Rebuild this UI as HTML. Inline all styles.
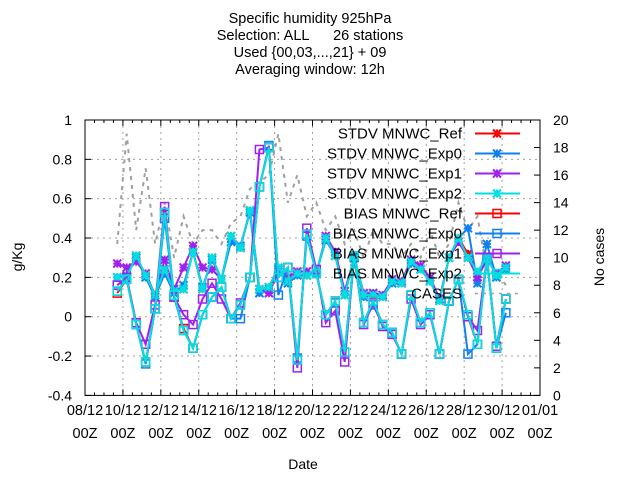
<!DOCTYPE html>
<html><head><meta charset="utf-8"><style>
body{margin:0;background:#fff;}
svg{display:block;font-family:"Liberation Sans",sans-serif;}
</style></head><body>
<svg id="chart" width="640" height="480" viewBox="0 0 640 480" xmlns="http://www.w3.org/2000/svg">
<rect width="640" height="480" fill="#fff"/>
<g font-size="14.5" text-anchor="middle" fill="#000">
<text x="310" y="23">Specific humidity 925hPa</text>
<text x="310" y="40" xml:space="preserve" style="white-space:pre">Selection: ALL      26 stations</text>
<text x="310" y="57">Used {00,03,...,21} + 09</text>
<text x="310" y="74">Averaging window: 12h</text>
</g>
<text font-size="14" transform="translate(22,257) rotate(-90)" text-anchor="middle">g/Kg</text>
<text font-size="14" transform="translate(604,257) rotate(-90)" text-anchor="middle">No cases</text>
<text font-size="14" x="303" y="469" text-anchor="middle">Date</text>
<g id="grid"></g><g id="axes"></g><g id="series"></g><g id="legend"></g>
</svg>
<script>
const xTickLabels=["08/12","10/12","12/12","14/12","16/12","18/12","20/12","22/12","24/12","26/12","28/12","30/12","01/01"];
const yTicks=[1,0.8,0.6,0.4,0.2,0,-0.2,-0.4];
const y2Ticks=[20,18,16,14,12,10,8,6,4,2,0];
const startDay=1.7, stepDay=0.5;
const stdvRef=[0.2,0.2,0.31,0.21,0.11,0.24,0.13,0.14,0.33,0.14,0.3,0.19,0.41,0.35,0.54,0.14,0.15,0.25,0.18,0.22,0.21,0.22,0.4,0.31,0.11,0.31,0.11,0.11,0.1,0.18,0.17,0.28,0.24,0.18,0.08,0.3,0.4,0.32,0.22,0.3,0.21,0.25];
const stdvExp0=[0.2,0.21,0.3,0.2,0.1,0.22,0.12,0.16,0.33,0.15,0.29,0.19,0.38,0.36,0.53,0.12,0.14,0.24,0.17,0.21,0.21,0.22,0.39,0.31,0.11,0.3,0.1,0.12,0.1,0.17,0.17,0.27,0.24,0.18,0.09,0.3,0.4,0.45,0.17,0.37,0.2,0.24];
const stdvExp1=[0.27,0.25,0.28,0.22,0.11,0.29,0.14,0.25,0.36,0.25,0.24,0.19,0.41,0.35,0.54,0.14,0.12,0.23,0.2,0.23,0.23,0.22,0.41,0.33,0.13,0.3,0.12,0.12,0.11,0.19,0.18,0.29,0.26,0.2,0.09,0.3,0.38,0.3,0.2,0.29,0.22,0.26];
const stdvExp2=[0.2,0.2,0.31,0.21,0.11,0.24,0.13,0.14,0.33,0.14,0.3,0.19,0.41,0.35,0.54,0.14,0.15,0.25,0.18,0.22,0.21,0.22,0.4,0.31,0.11,0.31,0.11,0.11,0.1,0.18,0.17,0.28,0.24,0.18,0.08,0.3,0.4,0.3,0.23,0.3,0.21,0.25];
const biasRef=[0.12,0.19,-0.04,-0.23,0.04,0.53,0.1,-0.06,-0.16,0.01,0.1,0.15,-0.01,0.06,0.2,0.66,0.86,0.2,0.25,-0.22,0.42,0.22,0.01,0.08,-0.18,0.31,-0.03,0.08,-0.04,-0.08,-0.19,0.11,-0.03,0.02,-0.19,0.08,0.19,0.0,-0.14,0.3,-0.16,0.09];
const biasExp0=[0.13,0.19,-0.04,-0.24,0.04,0.5,0.1,-0.07,-0.16,0.01,0.1,0.15,-0.01,-0.01,0.2,0.66,0.87,0.11,0.25,-0.21,0.41,0.22,0.01,0.07,-0.18,0.3,-0.03,0.06,-0.04,-0.08,-0.19,0.11,-0.03,0.02,-0.19,0.08,0.19,-0.19,-0.14,0.3,-0.16,0.02];
const biasExp1=[0.16,0.2,-0.03,-0.14,0.06,0.56,0.1,0.01,-0.04,0.09,0.17,0.09,-0.01,0.07,0.2,0.85,0.86,0.2,0.25,-0.26,0.45,0.24,-0.03,0.03,-0.23,0.31,-0.04,0.07,-0.05,-0.09,-0.19,0.09,-0.04,0.01,-0.19,0.08,0.19,0.0,-0.07,0.3,-0.15,0.09];
const biasExp2=[0.13,0.19,-0.04,-0.23,0.04,0.53,0.11,-0.07,-0.16,0.01,0.1,0.15,-0.01,0.06,0.2,0.66,0.86,0.2,0.25,-0.22,0.42,0.22,0.01,0.08,-0.18,0.31,-0.03,0.08,-0.04,-0.08,-0.19,0.11,-0.03,0.02,-0.19,0.08,0.19,0.01,-0.14,0.3,-0.16,0.09];
const cases=[11,19,12,16.5,11,14,10,13,11,12,12,11,12.5,13,15,15.5,16,19,14,16,13,14,12,13,11,12,10,12,11,11,10,11,10,12,10,11,14,12,13,9,9,8];

const NS="http://www.w3.org/2000/svg";
const L=85,R=540,T=120,B=395.4;
function xs(d){return L+(d)*(R-L)/24;}
function ys(v){return B-(v+0.4)*(B-T)/1.4;}
function y2s(c){return B-c*(B-T)/20;}
function mk(tag,attrs,parent){const e=document.createElementNS(NS,tag);for(const k in attrs)e.setAttribute(k,attrs[k]);parent.appendChild(e);return e;}
const grid=document.getElementById('grid'),axes=document.getElementById('axes'),series=document.getElementById('series'),legend=document.getElementById('legend');

yTicks.forEach(v=>{const y=ys(v);
 if(v<1&&v>-0.4){const g=mk('line',{x1:L,x2:R,y1:y,y2:y,stroke:'#a0a0a0','stroke-dasharray':'2,4'},grid);}
 mk('line',{x1:L,x2:L+6,y1:y,y2:y,stroke:'#000'},axes);
 const t=mk('text',{x:L-13,y:y+5,'font-size':14,'text-anchor':'end'},axes);t.textContent=String(v);
 
 
});
y2Ticks.forEach(c=>{const y=y2s(c);
 mk('line',{x1:R-6,x2:R,y1:y,y2:y,stroke:'#000'},axes);
 const t=mk('text',{x:R+13,y:y+5,'font-size':14},axes);t.textContent=String(c);
 
 
});
xTickLabels.forEach((lab,i)=>{const x=xs(i*2);
 if(i>0&&i<xTickLabels.length-1){const g=mk('line',{x1:x,x2:x,y1:T,y2:B,stroke:'#a0a0a0','stroke-dasharray':'2,4'},grid);}
 mk('line',{x1:x,x2:x,y1:B,y2:B-6,stroke:'#000'},axes);mk('line',{x1:x,x2:x,y1:T,y2:T+6,stroke:'#000'},axes);
 const t=mk('text',{x:x,y:415,'font-size':14.5,'text-anchor':'middle'},axes);t.textContent=lab;
 
 
 const t2=mk('text',{x:x,y:438,'font-size':14.5,'text-anchor':'middle'},axes);t2.textContent='00Z';
 
 
});
for(let d=0;d<=24;d+=0.5){if(d%2===0)continue;const x=xs(d);mk('line',{x1:x,x2:x,y1:B,y2:B-3,stroke:'#000'},axes);mk('line',{x1:x,x2:x,y1:T,y2:T+3,stroke:'#000'},axes);}
const frame=mk('rect',{x:L,y:T,width:R-L,height:B-T,fill:'none',stroke:'#000'},axes);



function star(g,x,y,c){mk('path',{d:`M${x-4},${y-4}L${x+4},${y+4}M${x-4},${y+4}L${x+4},${y-4}M${x-4},${y}L${x+4},${y}M${x},${y-4}L${x},${y+4}`,stroke:c,'stroke-width':2},g);}
function sq(g,x,y,c){mk('rect',{x:x-4,y:y-4,width:8,height:8,fill:'none',stroke:c,'stroke-width':1.5},g);}
function draw(vals,color,marker,name){
 const g=mk('g',{},series);
 
 
 const pts=vals.map((v,i)=>[xs(startDay+i*stepDay),ys(v)]);
 mk('polyline',{points:pts.map(p=>p.join(',')).join(' '),fill:'none',stroke:color,'stroke-width':2},g);
 pts.forEach(p=>marker(g,p[0],p[1],color));
}
const gc=mk('g',{},series);


mk('polyline',{points:cases.map((c,i)=>xs(startDay+i*stepDay)+','+y2s(c)).join(' '),fill:'none',stroke:'#a0a0a0','stroke-width':2,'stroke-dasharray':'4,5'},gc);

const RED='#ff0000',BLUE='#1080f0',PUR='#a020f0',CYA='#00e0e0';
draw(stdvRef,RED,star,'stdv-ref-series');
draw(stdvExp0,BLUE,star,'stdv-exp0-series');
draw(stdvExp1,PUR,star,'stdv-exp1-series');
draw(stdvExp2,CYA,star,'stdv-exp2-series');
draw(biasRef,RED,sq,'bias-ref-series');
draw(biasExp0,BLUE,sq,'bias-exp0-series');
draw(biasExp1,PUR,sq,'bias-exp1-series');
draw(biasExp2,CYA,sq,'bias-exp2-series');

const legItems=[["STDV MNWC_Ref",RED,star],["STDV MNWC_Exp0",BLUE,star],["STDV MNWC_Exp1",PUR,star],["STDV MNWC_Exp2",CYA,star],["BIAS MNWC_Ref",RED,sq],["BIAS MNWC_Exp0",BLUE,sq],["BIAS MNWC_Exp1",PUR,sq],["BIAS MNWC_Exp2",CYA,sq],["CASES","#a0a0a0",null]];
legItems.forEach((it,i)=>{const y=133.5+i*20;
 const g=mk('g',{},legend);
 
 
 const t=mk('text',{x:462,y:y+5,'font-size':15,'text-anchor':'end'},g);t.textContent=it[0];
 if(it[2]){mk('line',{x1:475,x2:520,y1:y,y2:y,stroke:it[1],'stroke-width':2},g);it[2](g,497,y,it[1]);}
 else mk('line',{x1:475,x2:520,y1:y,y2:y,stroke:it[1],'stroke-width':1.5,'stroke-dasharray':'3,5'},g);
});
</script>
</body></html>
